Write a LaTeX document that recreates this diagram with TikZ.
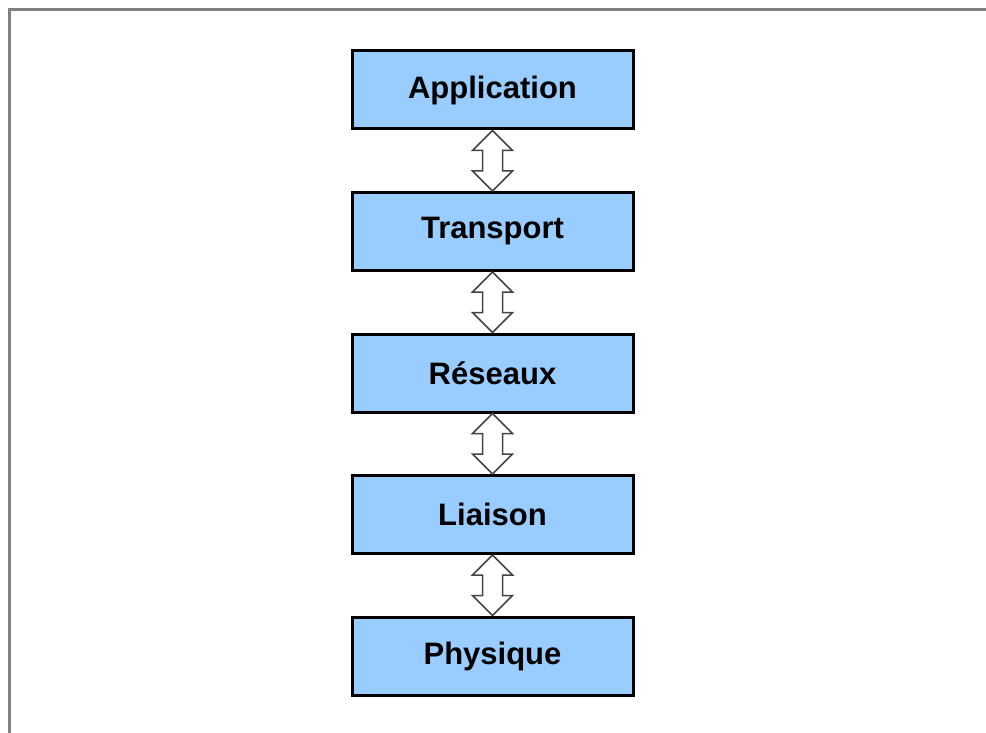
\documentclass[tikz,border=0pt]{standalone}
\usepackage{fontspec}
\setmainfont{Liberation Sans}
\usetikzlibrary{calc}
\definecolor{layerblue}{HTML}{99CCFF}
\definecolor{framegray}{HTML}{808080}
\definecolor{arrowgray}{HTML}{444444}
\tikzset{
  layer/.style={draw=black, fill=layerblue, line width=3pt, minimum width=281pt, minimum height=78pt, inner sep=0pt,
    font=\fontsize{31}{36}\selectfont\bfseries},
  dblarrow/.style={draw=arrowgray, fill=white, line width=1.5pt, line join=miter}
}
\newcommand{\updown}[2]{%
  \draw[dblarrow] let \p1=(#1.south), \p2=(#2.north) in
    (\p1) -- ++(-20pt,-20pt) -- ++(10pt,0) -- ($(\p2)+(-10pt,20pt)$) -- ++(-10pt,0) -- (\p2)
    -- ++(20pt,20pt) -- ++(-10pt,0) -- ($(\p1)+(10pt,-20pt)$) -- ++(10pt,0) -- cycle;}
\begin{document}
\begin{tikzpicture}[x=1pt,y=-1pt]
  \useasboundingbox (0,0) rectangle (986,733);
  \fill[white] (0,0) rectangle (986,733);
  \draw[framegray, line width=3pt] (9,733) -- (9,9.5) -- (986,9.5);
  \node[layer] (app) at (492.5,90) {Application};
  \node[layer] (tra) at (492.5,231.5) {Transport};
  \node[layer] (res) at (492.5,373) {Réseaux};
  \node[layer] (lia) at (492.5,514.5) {Liaison};
  \node[layer] (phy) at (492.5,656) {Physique};
  \updown{app}{tra}
  \updown{tra}{res}
  \updown{res}{lia}
  \updown{lia}{phy}
\end{tikzpicture}
\end{document}
